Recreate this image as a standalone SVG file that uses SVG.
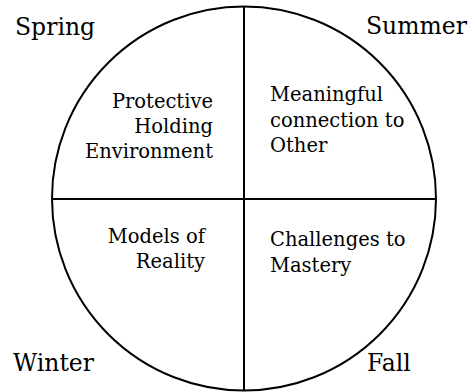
<svg xmlns="http://www.w3.org/2000/svg" width="471" height="392" viewBox="0 0 471 392">
<style>
.season{font-family:"DejaVu Serif","Liberation Serif",serif;font-size:23.5px;fill:#000}
.lbl{font-family:"DejaVu Serif","Liberation Serif",serif;font-size:19.5px;fill:#000}
.ln{stroke:#000;stroke-width:2;fill:none}
</style>
<rect width="471" height="392" fill="#fff"/>
<g id="circle"><circle class="ln" cx="244" cy="198.5" r="192"/></g>
<g id="connectors">
<line class="ln" x1="244" y1="6.5" x2="244" y2="390.5"/>
<line class="ln" x1="52" y1="199" x2="436" y2="199"/>
</g>
<g id="spring"><text class="season" x="15" y="35">Spring</text></g>
<g id="summer"><text class="season" x="366" y="34">Summer</text></g>
<g id="winter"><text class="season" x="13" y="371">Winter</text></g>
<g id="fall"><text class="season" x="367" y="371">Fall</text></g>
<g id="q1"><text class="lbl" text-anchor="end" x="213"><tspan x="213" y="108">Protective</tspan><tspan x="213" y="133">Holding</tspan><tspan x="213" y="158">Environment</tspan></text></g>
<g id="q2"><text class="lbl" x="270"><tspan x="270" y="101">Meaningful</tspan><tspan x="270" y="127">connection to</tspan><tspan x="270" y="152">Other</tspan></text></g>
<g id="q3"><text class="lbl" text-anchor="end" x="205"><tspan x="205" y="243">Models of</tspan><tspan x="205" y="268">Reality</tspan></text></g>
<g id="q4"><text class="lbl" x="270"><tspan x="270" y="246">Challenges to</tspan><tspan x="270" y="272">Mastery</tspan></text></g>
</svg>
